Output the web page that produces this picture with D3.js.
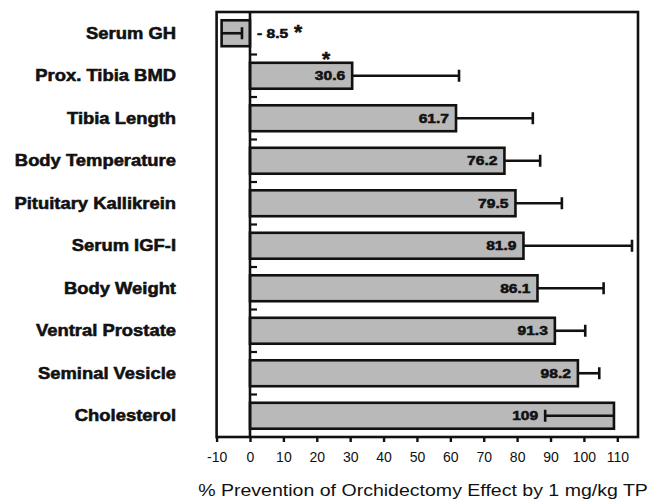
<!DOCTYPE html>
<html>
<head>
<meta charset="utf-8">
<script src="https://cdn.jsdelivr.net/npm/d3@7"></script>
<style>
  body { margin: 0; background: #fff; }
  svg text { font-family: "Liberation Sans", Arial, Helvetica, sans-serif; fill: #111; }
  svg text.heavy { stroke: #111; stroke-width: 0.55px; }
</style>
</head>
<body>
<div id="chart"></div>
<script>
// chart data
var categories = ["Serum GH", "Prox. Tibia BMD", "Tibia Length", "Body Temperature",
                  "Pituitary Kallikrein", "Serum IGF-I", "Body Weight", "Ventral Prostate",
                  "Seminal Vesicle", "Cholesterol"];
var values     = [-8.5, 30.6, 61.7, 76.2, 79.5, 81.9, 86.1, 91.3, 98.2, 109];
var valueText  = ["- 8.5", "30.6", "61.7", "76.2", "79.5", "81.9", "86.1", "91.3", "98.2", "109"];
// where each error bar ends (value units)
var errorEnds  = [-2.4, 62.6, 84.7, 86.9, 93.4, 114.4, 105.9, 100.4, 104.6, 88.4];
var starred    = [true, true, false, false, false, false, false, false, false, false];
var xTicks     = [-10, 0, 10, 20, 30, 40, 50, 60, 70, 80, 90, 100, 110];
var xTitle     = "% Prevention of Orchidectomy Effect by 1 mg/kg TP";

var W = 650, H = 499;
var plotL = 216.6, plotR = 638, plotT = 12, plotB = 437;
var stretch = 1.15;   // glyphs in the original are wider than Arial

var svg = d3.select("#chart").append("svg")
    .attr("width", W)
    .attr("height", H);

var x = d3.scaleLinear().domain([-10, 116.2]).range([plotL, plotR]);
var y = d3.scaleBand().domain(categories).range([plotT, plotB]).paddingInner(0.39).paddingOuter(0.195);
var band = d3.scaleBand().domain(categories).range([plotT, plotB]);

// bars
svg.selectAll(".bar")
    .data(categories)
    .enter()
    .append("rect")
    .attr("class", "bar")
    .attr("x", (d, i) => Math.min(x(0), x(values[i])))
    .attr("y", d => y(d))
    .attr("width", (d, i) => Math.abs(x(values[i]) - x(0)))
    .attr("height", y.bandwidth())
    .attr("fill", "#b9b9b9")
    .attr("stroke", "#111")
    .attr("stroke-width", 2.6);

// value labels
svg.selectAll(".val")
    .data(categories)
    .enter()
    .append("text")
    .attr("class", "val heavy")
    .attr("transform", (d, i) => {
        var cy = y(d) + y.bandwidth() / 2 + 4.5;
        var tx = values[i] < 0 ? x(0) + 7 : Math.min(x(values[i]), x(errorEnds[i])) - 7;
        return "translate(" + tx + "," + cy + ") scale(1.2,1)";
    })
    .attr("text-anchor", (d, i) => values[i] < 0 ? "start" : "end")
    .attr("font-size", "13px")
    .attr("font-weight", "bold")
    .text((d, i) => valueText[i]);

// error bars
var err = svg.selectAll(".err")
    .data(categories)
    .enter()
    .append("g")
    .attr("class", "err");

err.append("line")
    .attr("x1", (d, i) => x(values[i]))
    .attr("x2", (d, i) => x(errorEnds[i]))
    .attr("y1", d => y(d) + y.bandwidth() / 2)
    .attr("y2", d => y(d) + y.bandwidth() / 2)
    .attr("stroke", "#111")
    .attr("stroke-width", 2.6);

err.append("line")
    .attr("x1", (d, i) => x(errorEnds[i]))
    .attr("x2", (d, i) => x(errorEnds[i]))
    .attr("y1", d => y(d) + y.bandwidth() / 2 - 6)
    .attr("y2", d => y(d) + y.bandwidth() / 2 + 6)
    .attr("stroke", "#111")
    .attr("stroke-width", 2.6);

// significance stars
categories.forEach((d, i) => {
    if (!starred[i]) return;
    var sx, sy;
    if (values[i] < 0) {
        sx = x(0) + 48; sy = y(d) + 19;
    } else {
        sx = x(values[i]) - 26; sy = y(d) + 3;
    }
    svg.append("text")
        .attr("class", "heavy")
        .attr("x", sx)
        .attr("y", sy)
        .attr("text-anchor", "middle")
        .attr("font-size", "21px")
        .attr("font-weight", "bold")
        .text("*");
});

// frame
svg.append("rect")
    .attr("x", plotL)
    .attr("y", plotT)
    .attr("width", plotR - plotL)
    .attr("height", plotB - plotT)
    .attr("fill", "none")
    .attr("stroke", "#111")
    .attr("stroke-width", 2.6);

// zero line with small ticks at band edges
svg.append("line")
    .attr("x1", x(0)).attr("x2", x(0))
    .attr("y1", plotT).attr("y2", plotB)
    .attr("stroke", "#111")
    .attr("stroke-width", 2.6);

svg.selectAll(".ytick")
    .data(categories.slice(1))
    .enter()
    .append("line")
    .attr("class", "ytick")
    .attr("x1", x(0))
    .attr("x2", x(0) + 7)
    .attr("y1", d => band(d))
    .attr("y2", d => band(d))
    .attr("stroke", "#111")
    .attr("stroke-width", 2.2);

// category labels
svg.selectAll(".cat")
    .data(categories)
    .enter()
    .append("text")
    .attr("class", "cat heavy")
    .attr("transform", d => "translate(176," + (y(d) + y.bandwidth() / 2 + 5.5) + ") scale(" + stretch + ",1)")
    .attr("text-anchor", "end")
    .attr("font-size", "16px")
    .attr("font-weight", "bold")
    .text(d => d);

// x axis
var xAxis = d3.axisBottom(x)
    .tickValues(xTicks)
    .tickFormat(d => String(d))
    .tickSize(5)
    .tickPadding(10)
    .tickSizeOuter(0);

var gx = svg.append("g")
    .attr("transform", "translate(0," + plotB + ")")
    .call(xAxis);

gx.select(".domain").remove();
gx.selectAll(".tick line").attr("stroke", "#111").attr("stroke-width", 2.4);
gx.selectAll(".tick text")
    .attr("font-size", "14px")
    .attr("fill", "#222")
    .style("font-family", "'Liberation Sans', Arial, sans-serif");

svg.append("text")
    .attr("transform", "translate(423,496) scale(" + stretch + ",1)")
    .attr("text-anchor", "middle")
    .attr("font-size", "17px")
    .text(xTitle);
</script>
</body>
</html>
